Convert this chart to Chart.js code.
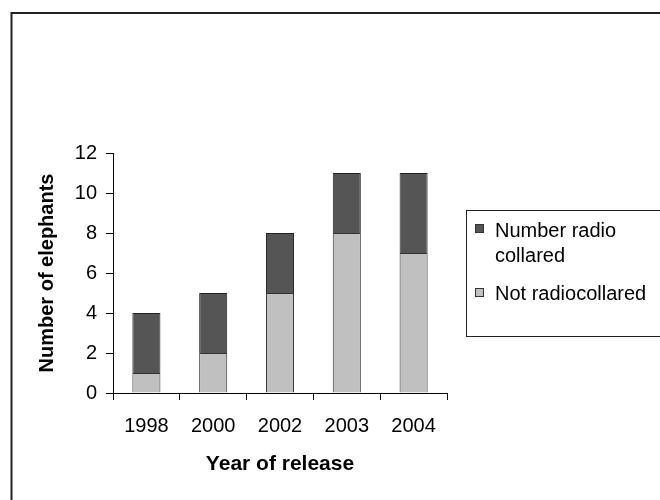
<!DOCTYPE html>
<html>
<head>
<meta charset="utf-8">
<script src="https://cdn.jsdelivr.net/npm/chart.js@4/dist/chart.umd.min.js"></script>
<style>
  html, body { margin: 0; padding: 0; background: #ffffff; }
  #wrap { width: 660px; height: 500px; position: relative; }
</style>
</head>
<body>
<div id="wrap"><canvas id="chart" width="660" height="500"></canvas></div>
<script>
// Elephants released per year, split by collar status
const years = ['1998', '2000', '2002', '2003', '2004'];
const notCollared = [1, 2, 5, 8, 7];
const radioCollared = [3, 3, 3, 3, 4];
const seriesNames = ['Not radiocollared', ['Number radio', 'collared']];
const yTicks = [0, 2, 4, 6, 8, 10, 12];

const FONT = "'Liberation Sans', Arial, Helvetica, sans-serif";
const PLOT = { left: 113, right: 447, top: 153, bottom: 393 };

// Frame around the whole figure (runs past the right and bottom edges)
const framePlugin = {
  id: 'frame',
  beforeDraw(chart) {
    const ctx = chart.ctx;
    ctx.save();
    ctx.fillStyle = '#ffffff';
    ctx.fillRect(0, 0, chart.width, chart.height);
    ctx.strokeStyle = '#222222';
    ctx.lineWidth = 2;
    ctx.strokeRect(11.5, 13, chart.width + 20, chart.height + 20);
    ctx.restore();
  }
};

// Boxed legend to the right of the plot, top series listed first
const boxLegend = {
  id: 'boxLegend',
  afterDraw(chart) {
    const ctx = chart.ctx;
    ctx.save();
    ctx.strokeStyle = '#222222';
    ctx.lineWidth = 1;
    ctx.strokeRect(466.5, 210.5, 220, 126);
    ctx.font = '20px ' + FONT;
    ctx.fillStyle = '#000000';
    ctx.textBaseline = 'alphabetic';
    const items = chart.data.datasets.slice().reverse();
    const rows = [{ sq: 224, base: 237 }, { sq: 288, base: 300 }];
    items.forEach((ds, i) => {
      const r = rows[i];
      ctx.fillStyle = ds.backgroundColor;
      ctx.fillRect(475, r.sq, 9, 9);
      ctx.strokeStyle = '#333333';
      ctx.strokeRect(475.5, r.sq + 0.5, 8, 8);
      ctx.fillStyle = '#000000';
      const lines = Array.isArray(ds.label) ? ds.label : [ds.label];
      lines.forEach((t, j) => ctx.fillText(t, 495, r.base + j * 25));
    });
    ctx.restore();
  }
};

new Chart(document.getElementById('chart'), {
  type: 'bar',
  data: {
    labels: years,
    datasets: [
      {
        label: seriesNames[0],
        data: notCollared,
        backgroundColor: '#c0c0c0',
        borderColor: '#333333',
        borderWidth: 1
      },
      {
        label: seriesNames[1],
        data: radioCollared,
        backgroundColor: '#555555',
        borderColor: '#222222',
        borderWidth: 1
      }
    ]
  },
  options: {
    responsive: false,
    animation: false,
    events: [],
    categoryPercentage: 1.0,
    barPercentage: 0.42,
    layout: { padding: { left: 0, top: PLOT.top, right: 660 - PLOT.right, bottom: 0 } },
    plugins: { legend: { display: false }, tooltip: { enabled: false } },
    scales: {
      x: {
        stacked: true,
        offset: true,
        afterFit(scale) { scale.height = 500 - PLOT.bottom; },
        grid: {
          offset: true,
          drawOnChartArea: false,
          drawTicks: true,
          tickLength: 7,
          color: '#000000'
        },
        border: { color: '#000000', width: 1 },
        ticks: {
          color: '#000000',
          font: { family: FONT, size: 20 },
          padding: 14,
          maxRotation: 0
        },
        title: {
          display: true,
          text: 'Year of release',
          color: '#000000',
          font: { family: FONT, size: 21, weight: 'bold' },
          padding: { top: 0, bottom: 23 }
        }
      },
      y: {
        stacked: true,
        min: 0,
        max: 12,
        afterFit(scale) { scale.width = PLOT.left; },
        afterBuildTicks(scale) { scale.ticks = yTicks.map(v => ({ value: v })); },
        grid: {
          drawOnChartArea: false,
          drawTicks: true,
          tickLength: 7,
          color: '#000000'
        },
        border: { color: '#000000', width: 1 },
        ticks: {
          color: '#000000',
          font: { family: FONT, size: 20 },
          padding: 9
        },
        title: {
          display: true,
          text: 'Number of elephants',
          color: '#000000',
          font: { family: FONT, size: 20, weight: 'bold' },
          padding: { top: 35, bottom: 0 }
        }
      }
    }
  },
  plugins: [framePlugin, boxLegend]
});
</script>
</body>
</html>
